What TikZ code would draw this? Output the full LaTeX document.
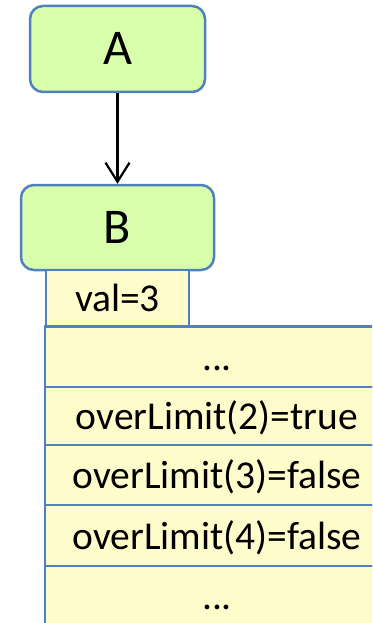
\documentclass[tikz,border=0pt]{standalone}
\usepackage{fontspec}
\setmainfont{Carlito}
\usetikzlibrary{arrows.meta}
\definecolor{bordblue}{HTML}{4F81BD}
\definecolor{nodegreen}{HTML}{D8FEAC}
\definecolor{cellyellow}{HTML}{FFFCCC}
\tikzset{
  greenbox/.style={draw=bordblue, fill=nodegreen, line width=2.5pt, rounded corners=13pt,
    inner sep=0pt, font=\fontsize{50}{50}\selectfont, text height=38pt, text depth=6pt},
  cellbox/.style={draw=bordblue, fill=cellyellow, line width=2.5pt, inner sep=0pt,
    font=\fontsize{39.5}{40}\selectfont, text height=32pt, text depth=5pt},
  link/.style={draw=black, line width=2.2pt, -{Straight Barb[length=19pt,width=24pt]}}
}
\begin{document}
\begin{tikzpicture}[x=1pt,y=-1pt]
\useasboundingbox (0,0) rectangle (372,623);
\clip (0,0) rectangle (372,623);
\node[greenbox, minimum width=175pt, minimum height=86pt] (A) at (117.5,49) {A};
\node[greenbox, minimum width=193pt, minimum height=85pt] (B) at (117.5,227.5) {B};
\node[cellbox, minimum width=143pt, minimum height=56.5pt] (val) at (117.5,298.25) {val=3};
\node[cellbox, minimum width=344pt, minimum height=60.5pt] (r1) at (217,356.75) {...};
\node[cellbox, minimum width=344pt, minimum height=58pt] (r2) at (217,416) {overLimit(2)=true};
\node[cellbox, minimum width=344pt, minimum height=60pt] (r3) at (217,475) {overLimit(3)=false};
\node[cellbox, minimum width=344pt, minimum height=61pt] (r4) at (217,535.5) {overLimit(4)=false};
\node[cellbox, minimum width=344pt, minimum height=60pt] (r5) at (217,596) {...};
\draw[link] (A.south) -- (B.north);
\end{tikzpicture}
\end{document}
